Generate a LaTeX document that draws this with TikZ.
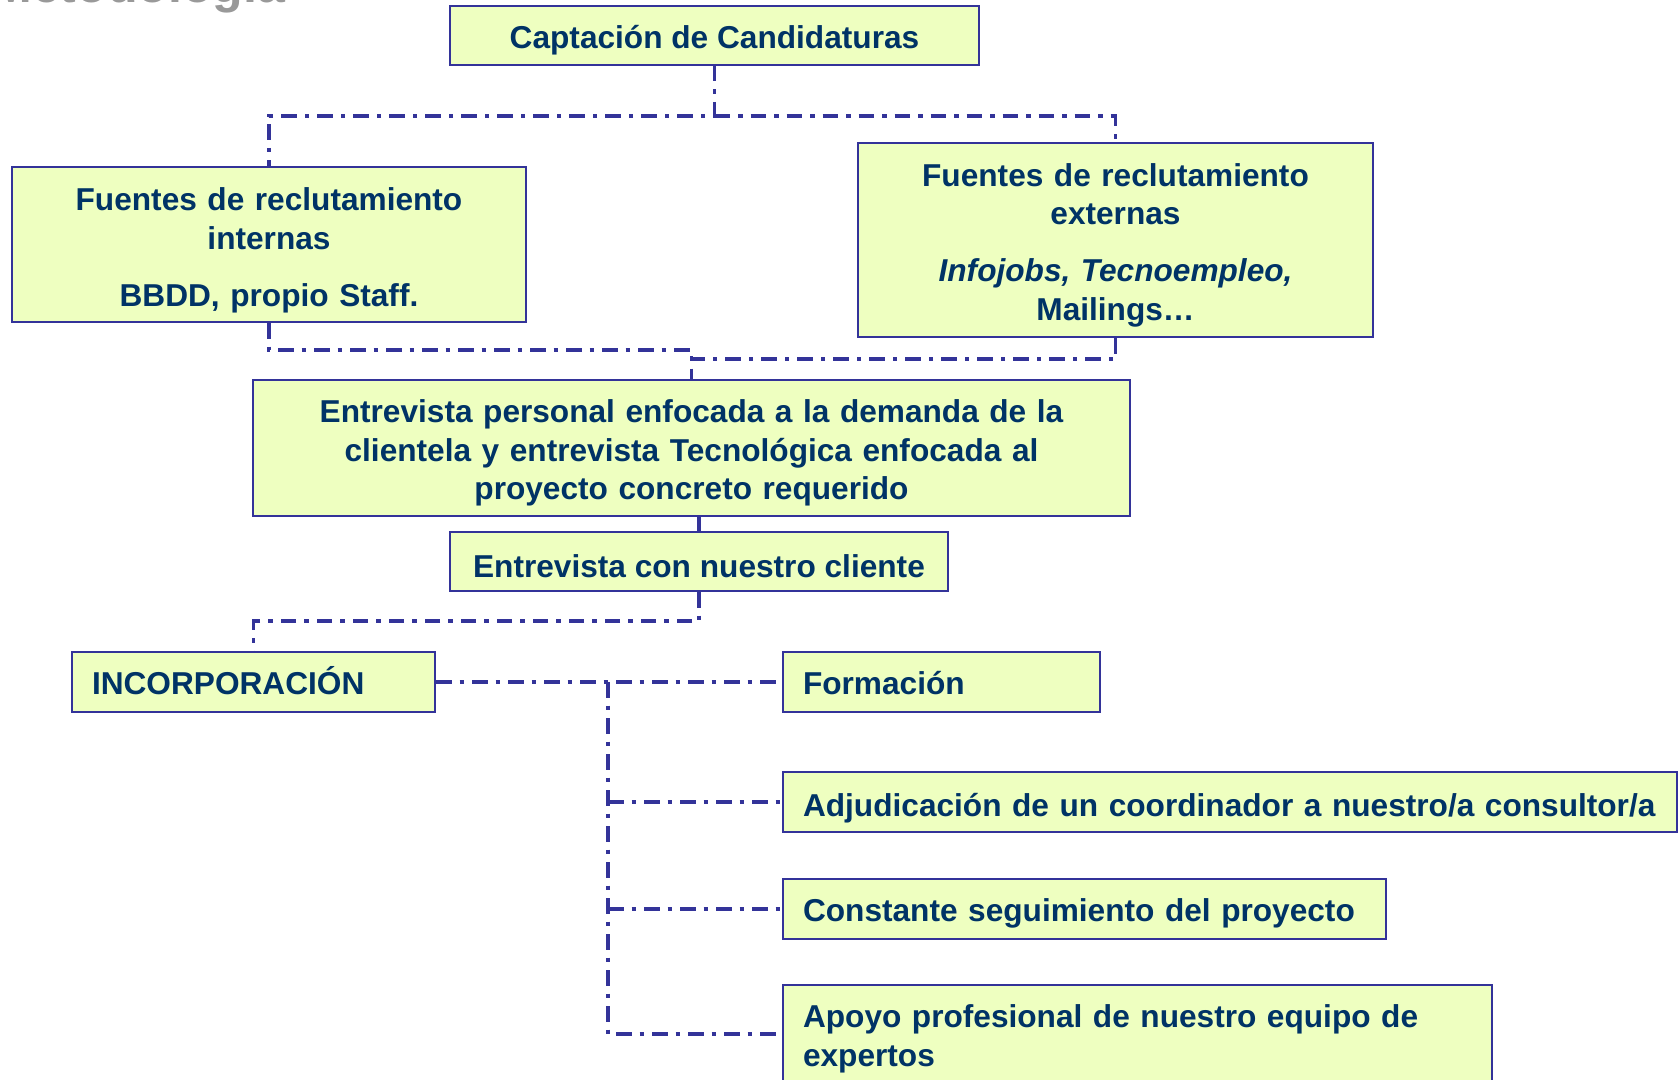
\documentclass[tikz,border=0pt]{standalone}
\usepackage{fontspec}
\setmainfont{Liberation Sans}
\definecolor{boxfill}{RGB}{238,255,192}
\definecolor{boxline}{RGB}{51,51,153}
\definecolor{navy}{RGB}{0,51,102}
\begin{document}
\begin{tikzpicture}[
  drop/.style={execute at begin node={\rule{0pt}{#1}}},
  lift/.style={execute at begin node={\rule[-#1]{0pt}{#1}}},
  box/.style={draw=boxline, line width=0.04cm, fill=boxfill, text=navy, font=\fontsize{18}{21.9}\selectfont\bfseries, align=center, inner sep=0pt, drop=18.5pt},
  leftbox/.style={box, align=left, inner xsep=0.4cm},
  link/.style={draw=boxline, line width=0.07cm, dash pattern=on 0.31cm off 0.16cm on 0.09cm off 0.16cm}
]
\useasboundingbox (0,0) rectangle (33.58,-21.6);
\clip (0,0) rectangle (33.58,-21.6);
\node (titulo) at (-0.2,-0.06) [anchor=base west, inner sep=0pt, text=gray!80, font=\fontsize{28.5}{34}\selectfont\bfseries] {Metodología};
% upper part
\node (capt) at (14.29,-0.71) [box, minimum width=10.58cm, minimum height=1.18cm] {Captación de Candidaturas};
\node (fint) at (5.38,-4.89) [box, text width=10.28cm, minimum height=3.10cm, drop=20.1pt] {Fuentes de reclutamiento\\ internas\\[0.38cm] BBDD, propio Staff.};
\node (fext) at (22.31,-4.80) [box, text width=10.30cm, minimum height=3.88cm, drop=18.9pt] {Fuentes de reclutamiento\\ externas\\[0.38cm] \textit{Infojobs, Tecnoempleo,}\\ Mailings…};
\node (pers) at (13.83,-8.96) [box, text width=17.54cm, minimum height=2.72cm, drop=18.9pt] {Entrevista personal enfocada a la demanda de la\\ clientela y entrevista Tecnológica enfocada al\\ proyecto concreto requerido};
\node (cli) at (13.98,-11.23) [box, minimum width=9.96cm, minimum height=1.18cm, drop=14.1pt] {Entrevista con nuestro cliente};
% lower part
\node (inc) at (5.07,-13.64) [leftbox, text width=6.46cm, minimum height=1.2cm, lift=4.2pt] {INCORPORACIÓN};
\node (form) at (18.83,-13.64) [leftbox, text width=5.54cm, minimum height=1.2cm, lift=4.2pt] {Formación};
\node (adj) at (24.60,-16.04) [leftbox, text width=17.08cm, minimum height=1.2cm, drop=20.5pt] {\mbox{Adjudicación de un coordinador a nuestro/a consultor/a}};
\node (con) at (21.69,-18.18) [leftbox, text width=11.26cm, minimum height=1.2cm] {Constante seguimiento del proyecto};
\node (apo) at (22.75,-20.68) [leftbox, text width=13.38cm, minimum height=1.96cm] {Apoyo profesional de nuestro equipo de\\ expertos};
% connectors
\coordinate (jc) at (14.29,-2.32);
\coordinate (jl) at (13.83,-7.00);
\coordinate (jr) at (13.83,-7.18);
\coordinate (jb) at (13.98,-12.42);
\coordinate (jf) at (12.16,-13.64);
\draw [link] (capt.south) -- (jc) -| (fint.north);
\draw [link] (jc) -| (fext.north);
\draw [link] (fint.south) |- (jl) -- (pers.north);
\draw [link] (fext.south) |- (jr);
\draw [link] (cli.north |- pers.south) -- (cli.north);
\draw [link] (cli.south) -- (jb) -| (inc.north);
\draw [link] (inc.east) -- (form.west);
\draw [link] (jf) |- (apo.west);
\draw [link] (adj.west -| jf) -- (adj.west);
\draw [link] (con.west -| jf) -- (con.west);
\end{tikzpicture}
\end{document}
